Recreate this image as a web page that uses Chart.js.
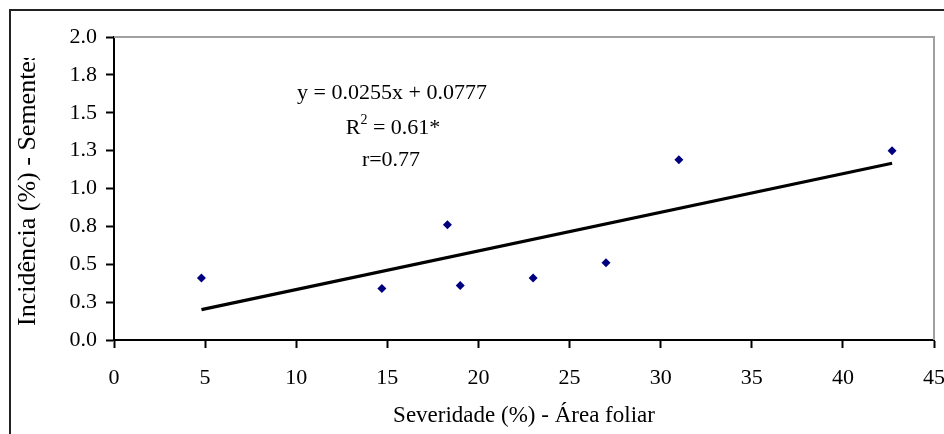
<!DOCTYPE html>
<html>
<head>
<meta charset="utf-8">
<script src="https://cdn.jsdelivr.net/npm/chart.js@4.4.1/dist/chart.umd.min.js"></script>
<style>
  body { margin: 0; background: #fff; }
  #wrap { width: 944px; height: 434px; }
</style>
</head>
<body>
<div id="wrap"><canvas id="myChart1" width="944" height="434"></canvas></div>
<script>
// severidade na folha x incidencia nas sementes
var severidade = [4.8, 14.7, 18.3, 19.0, 23.0, 27.0, 31.0, 42.7];
var incidencia = [0.41, 0.34, 0.76, 0.36, 0.41, 0.51, 1.19, 1.25];

// regressao linear ajustada
var coefA = 0.0255;
var coefB = 0.0777;
var eqTexto = "y = 0.0255x + 0.0777";
var r2Texto = " = 0.61*";
var rTexto = "r=0.77";

var xMin = Math.min.apply(null, severidade);
var xMax = Math.max.apply(null, severidade);
var tendencia = [
  { x: xMin, y: coefA * xMin + coefB },
  { x: xMax, y: coefA * xMax + coefB }
];

var pontos = severidade.map(function (v, i) { return { x: v, y: incidencia[i] }; });

var fonte = "'Liberation Serif', 'Times New Roman', serif";

// moldura externa, borda cinza da area do grafico e textos da equacao
var extras = {
  id: 'extras',
  beforeDraw: function (chart) {
    var c = chart.ctx;
    c.save();
    c.fillStyle = '#fff';
    c.fillRect(0, 0, chart.width, chart.height);
    c.restore();
  },
  afterDraw: function (chart) {
    var c = chart.ctx;
    var a = chart.chartArea;
    c.save();
    // corta o titulo do eixo y no topo
    c.fillStyle = '#fff';
    c.fillRect(13, 12, 40, 46);

    c.strokeStyle = '#a0a0a0';
    c.lineWidth = 2;
    c.beginPath();
    c.moveTo(a.left, a.top);
    c.lineTo(a.right, a.top);
    c.lineTo(a.right, a.bottom);
    c.stroke();

    c.strokeStyle = '#222';
    c.lineWidth = 2;
    c.strokeRect(10, 10, 1000, 1000);

    c.fillStyle = '#000';
    c.font = '22px ' + fonte;
    c.textAlign = 'center';
    c.textBaseline = 'middle';
    c.fillText(eqTexto, 392, 93);
    c.fillText(rTexto, 391, 160);

    var w1 = c.measureText('R').width;
    c.font = '14px ' + fonte;
    var w2 = c.measureText('2').width;
    c.font = '22px ' + fonte;
    var w3 = c.measureText(r2Texto).width;
    var x0 = 393 - (w1 + w2 + w3) / 2;
    c.textAlign = 'left';
    c.fillText('R', x0, 128);
    c.font = '14px ' + fonte;
    c.fillText('2', x0 + w1, 120);
    c.font = '22px ' + fonte;
    c.fillText(r2Texto, x0 + w1 + w2, 128);
    c.restore();
  }
};

var ctx = document.getElementById("myChart1").getContext('2d');
var myChart = new Chart(ctx, {
  type: 'scatter',
  data: {
    datasets: [{
      label: 'Incidência',
      data: pontos,
      pointStyle: 'rectRot',
      pointRadius: 4.5,
      pointHoverRadius: 4.5,
      backgroundColor: '#000080',
      borderColor: '#000080',
      borderWidth: 0
    }, {
      label: 'Linear',
      type: 'line',
      data: tendencia,
      borderColor: '#000',
      borderWidth: 3.2,
      pointRadius: 0,
      fill: false
    }]
  },
  options: {
    responsive: false,
    animation: false,
    layout: { padding: { left: 0, top: 37, right: 10, bottom: 0 } },
    plugins: {
      legend: { display: false },
      tooltip: { enabled: false }
    },
    scales: {
      x: {
        type: 'linear',
        min: 0,
        max: 45,
        afterFit: function (s) { s.height = 94; s.paddingRight = 0; s.paddingLeft = 0; },
        border: { color: '#000', width: 2 },
        grid: { drawOnChartArea: false, drawTicks: true, tickLength: 8, tickColor: '#000', tickWidth: 2 },
        ticks: { stepSize: 5, padding: 17, color: '#000', font: { family: fonte, size: 22 } },
        title: { display: true, text: 'Severidade (%) - Área foliar', color: '#000',
                 font: { family: fonte, size: 23 }, padding: { top: 0, bottom: 4 } }
      },
      y: {
        type: 'linear',
        min: 0,
        max: 2,
        afterFit: function (s) { s.width = 114; s.paddingTop = 0; s.paddingBottom = 0; },
        border: { color: '#000', width: 2 },
        grid: { drawOnChartArea: false, drawTicks: true, tickLength: 8, tickColor: '#000', tickWidth: 2 },
        ticks: {
          stepSize: 0.25,
          padding: 9,
          color: '#000',
          font: { family: fonte, size: 22 },
          callback: function (v) { return v.toFixed(1); }
        },
        title: { display: true, text: 'Incidência (%) - Sementes', color: '#000',
                 font: { family: fonte, size: 26 }, padding: { top: 13, bottom: 0 } }
      }
    }
  },
  plugins: [extras]
});
</script>
</body>
</html>
